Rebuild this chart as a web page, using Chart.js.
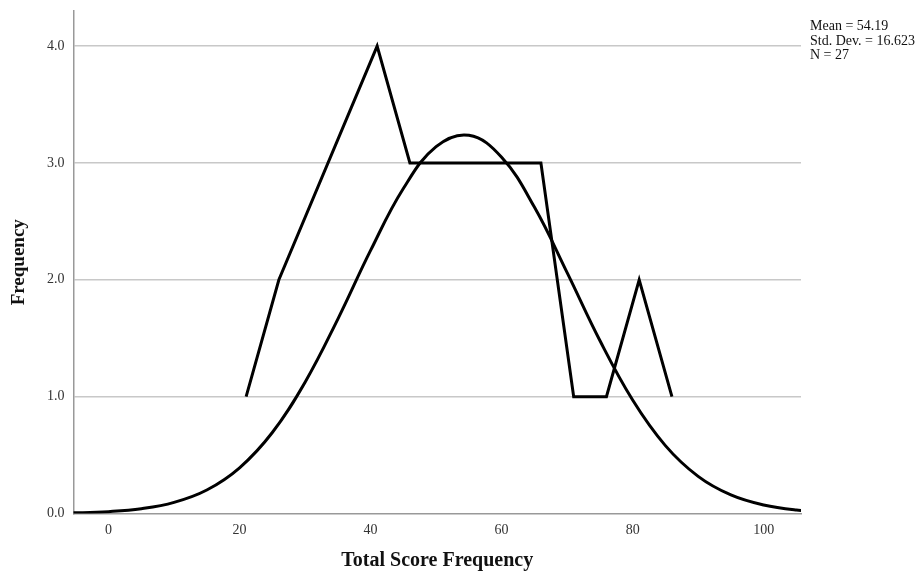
<!DOCTYPE html>
<html lang="en">
<head>
    <meta charset="UTF-8">
    <title>Total Score Frequency</title>
    <script src="https://cdn.jsdelivr.net/npm/chart.js"></script>
    <style>
        html, body { margin: 0; padding: 0; background: #fff; }
    </style>
</head>
<body>
<canvas id="histChart" width="919" height="576"></canvas>
<script>
    // frequency polygon (score midpoints, counts)
    const scoreX = [21, 26, 41, 46, 51, 56, 61, 66, 71, 76, 81, 86];
    const scoreFreq = [1, 2, 4, 3, 3, 3, 3, 3, 1, 1, 2, 1];

    // normal curve
    const curveX = [-10, -5, 0, 5, 10, 15, 20, 25, 30, 35, 40, 45, 50, 55, 60, 65, 70, 75, 80, 85, 90, 95, 100, 105, 110];
    const curveY = [0.002, 0.006, 0.016, 0.041, 0.095, 0.201, 0.391, 0.693, 1.124, 1.664, 2.251, 2.781, 3.139, 3.236, 3.048, 2.622, 2.061, 1.480, 0.971, 0.581, 0.318, 0.159, 0.073, 0.030, 0.012];

    const xTicks = [0, 20, 40, 60, 80, 100];
    const yTicks = [0, 1, 2, 3, 4];
    const statsLines = ["Mean = 54.19", "Std. Dev. = 16.623", "N = 27"];

    const serif = "'Liberation Serif', 'Times New Roman', serif";

    const statsPlugin = {
        id: "stats",
        afterDraw(chart) {
            const ctx = chart.ctx;
            ctx.save();
            ctx.font = "14px " + serif;
            ctx.fillStyle = "#111";
            ctx.textBaseline = "alphabetic";
            statsLines.forEach((t, i) => ctx.fillText(t, 810, 30 + i * 14.5));
            ctx.restore();
        }
    };

    new Chart(document.getElementById("histChart"), {
        type: "line",
        data: {
            datasets: [
                {
                    label: "Frequency",
                    data: scoreX.map((x, i) => ({ x: x, y: scoreFreq[i] })),
                    borderColor: "#000",
                    borderWidth: 3,
                    borderJoinStyle: "miter",
                    pointRadius: 0,
                    tension: 0
                },
                {
                    label: "Normal",
                    data: curveX.map((x, i) => ({ x: x, y: curveY[i] })),
                    borderColor: "#000",
                    borderWidth: 3,
                    pointRadius: 0,
                    tension: 0.4
                }
            ]
        },
        options: {
            responsive: false,
            animation: false,
            devicePixelRatio: 1,
            layout: { padding: { top: 11, right: 118, left: 0, bottom: 0 } },
            plugins: { legend: { display: false }, tooltip: { enabled: false } },
            scales: {
                x: {
                    type: "linear",
                    min: -5.35,
                    max: 105.7,
                    afterFit: s => { s.height = 62.5; s.paddingLeft = 0; s.paddingRight = 0; },
                    afterBuildTicks: s => { s.ticks = xTicks.map(v => ({ value: v })); },
                    grid: { display: false, drawTicks: false },
                    border: { color: "#999", width: 1.5 },
                    ticks: { padding: 8, maxRotation: 0, color: "#333", font: { family: serif, size: 14 } },
                    title: {
                        display: true,
                        text: "Total Score Frequency",
                        color: "#111",
                        font: { family: serif, size: 20, weight: "bold" },
                        padding: { top: 0, bottom: 3 }
                    }
                },
                y: {
                    min: 0,
                    max: 4.3,
                    afterFit: s => { s.width = 73.5; s.paddingTop = 0; s.paddingBottom = 0; },
                    afterBuildTicks: s => { s.ticks = yTicks.map(v => ({ value: v })); },
                    grid: {
                        drawTicks: false,
                        color: ctx => ctx.tick && ctx.tick.value === 0 ? "rgba(0,0,0,0)" : "#c8c8c8",
                        lineWidth: 1.5
                    },
                    border: { color: "#999", width: 1.5 },
                    ticks: {
                        padding: 9,
                        color: "#333",
                        font: { family: serif, size: 14 },
                        callback: v => v.toFixed(1)
                    },
                    title: {
                        display: true,
                        text: "Frequency",
                        color: "#111",
                        font: { family: serif, size: 19, weight: "bold" },
                        padding: { top: 8, bottom: 0 }
                    }
                }
            }
        },
        plugins: [statsPlugin]
    });
</script>
</body>
</html>
